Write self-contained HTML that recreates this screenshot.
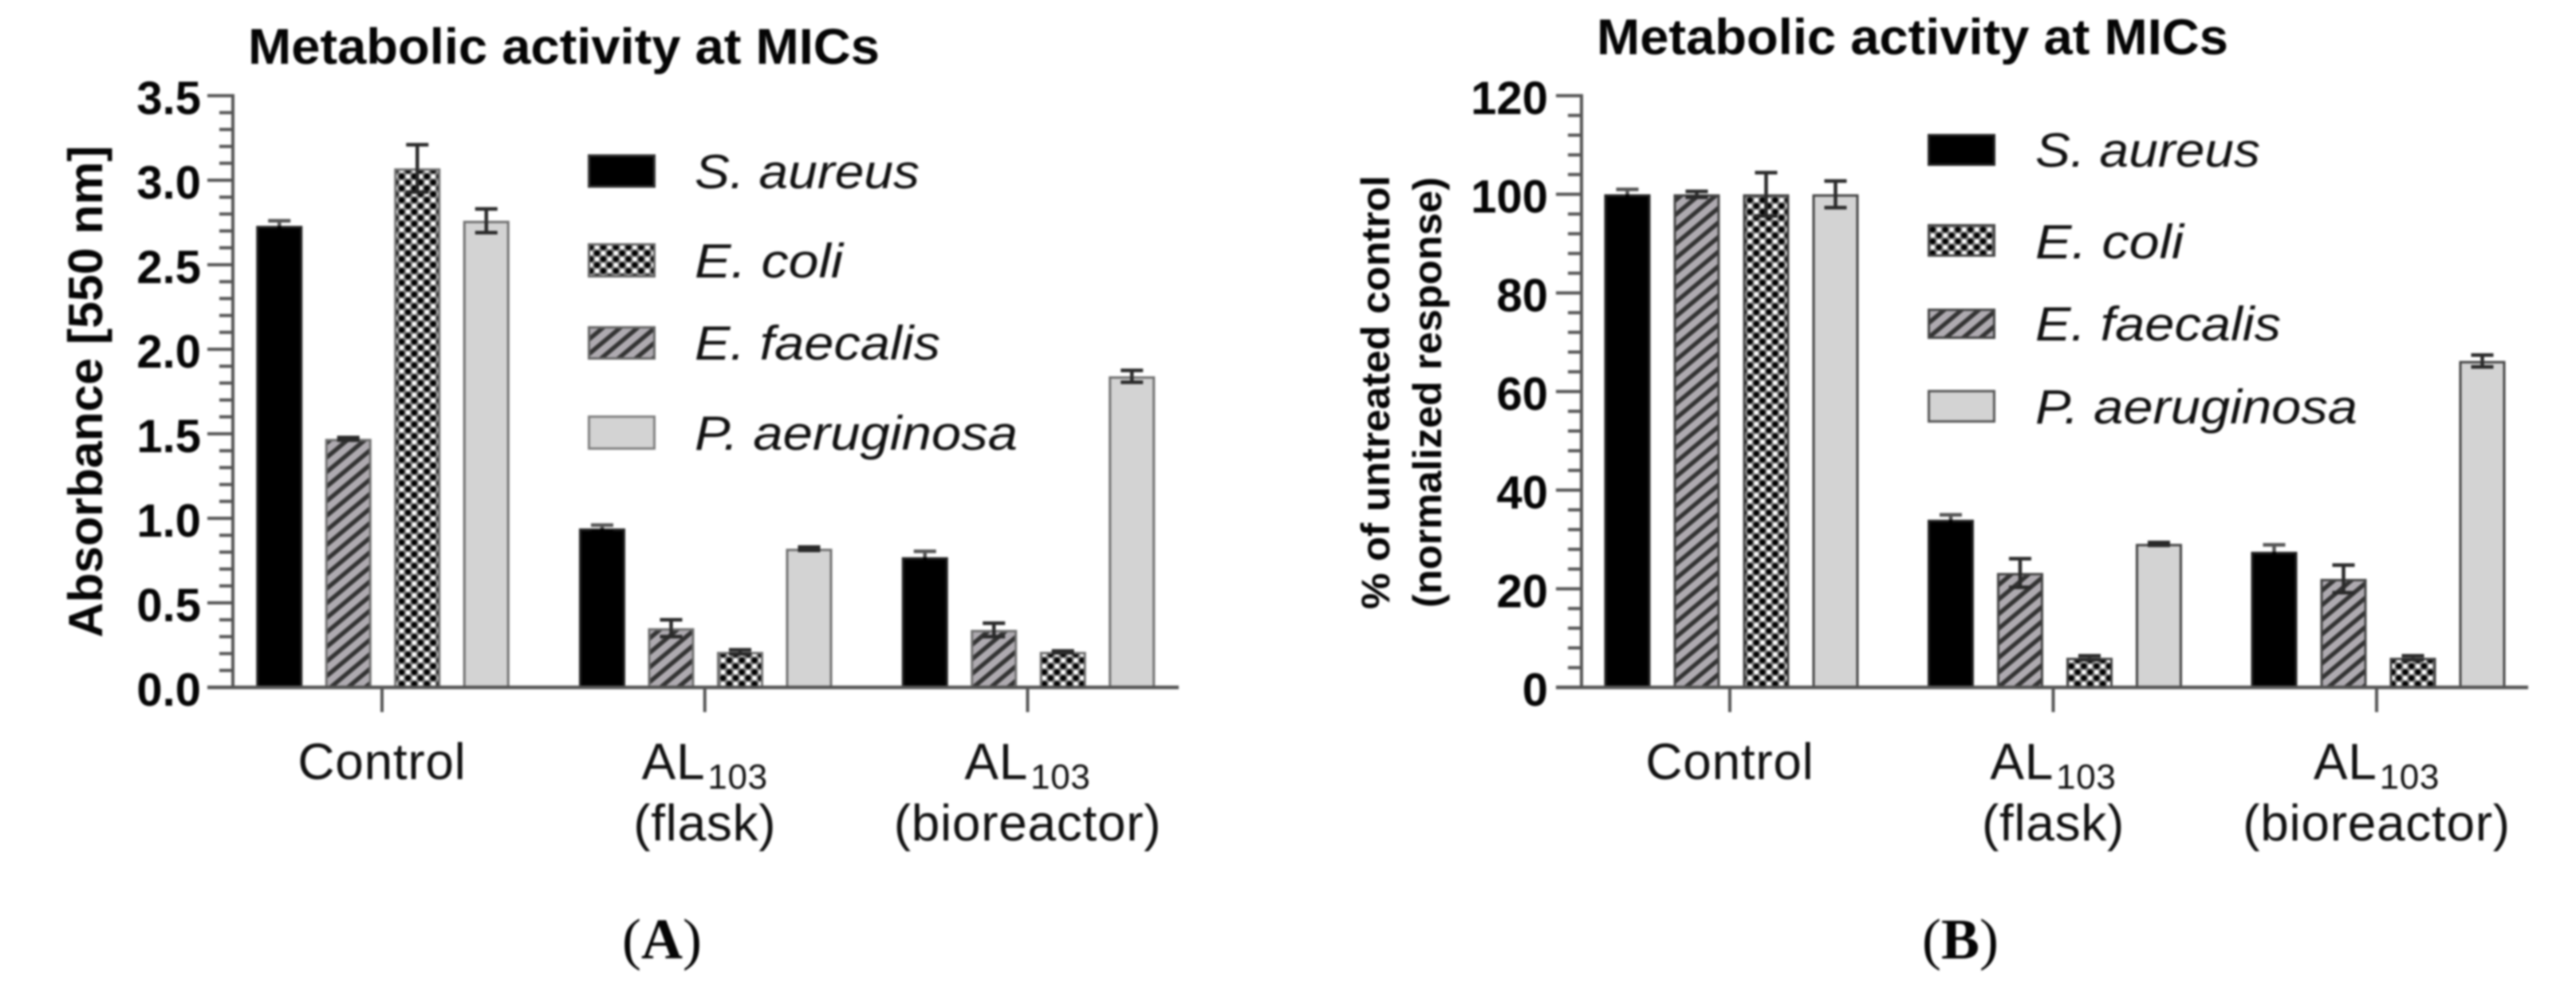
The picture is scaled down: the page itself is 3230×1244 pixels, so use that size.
<!DOCTYPE html>
<html lang="en">
<head>
<meta charset="utf-8">
<title>Metabolic activity at MICs</title>
<style>
html,body{margin:0;padding:0;background:#fff;width:3230px;height:1244px;overflow:hidden}
svg{display:block;filter:blur(1.4px)}
text{font-family:"Liberation Sans",sans-serif;fill:#050505}
.title{font-weight:bold;font-size:63px}
.axis-title{font-weight:bold}
.legend{font-style:italic;font-size:60px;fill:#111}
.tick{font-weight:bold;font-size:58px;text-anchor:end}
.cat{font-size:64px;text-anchor:middle;letter-spacing:.7px;fill:#111}
.panel{font-family:"Liberation Serif",serif;font-size:72px}
</style>
</head>
<body>
<svg id="fig" xmlns="http://www.w3.org/2000/svg" width="3230" height="1244" viewBox="0 0 3230 1244">
<defs>
<pattern id="dots" patternUnits="userSpaceOnUse" width="15.8" height="14.8" patternTransform="translate(2 3)">
<rect width="15.8" height="14.8" fill="#808080"/>
<circle cx="3.95" cy="3.7" r="3.6" fill="#000"/>
<circle cx="11.85" cy="11.1" r="3.6" fill="#000"/>
<circle cx="11.85" cy="3.7" r="2.9" fill="#fff"/>
<circle cx="3.95" cy="11.1" r="2.9" fill="#fff"/>
</pattern>
<pattern id="hatch" patternUnits="userSpaceOnUse" width="14" height="14" patternTransform="rotate(-40)">
<rect width="14" height="14" fill="#aeaab0"/>
<rect width="14" height="5.5" fill="#333"/>
</pattern>
</defs>

<rect width="3230" height="1244" fill="#fff"/>

<g id="panel-a">
<text class="title" x="311" y="80" textLength="792" lengthAdjust="spacingAndGlyphs">Metabolic activity at MICs</text>
<text class="axis-title" font-size="60" text-anchor="middle" transform="translate(128 491) rotate(-90)" textLength="617" lengthAdjust="spacingAndGlyphs">Absorbance [550 nm]</text>
<g>
<rect x="738.5" y="195" width="82" height="39" fill="#000" stroke="#333" stroke-width="3"/>
<text class="legend" x="871" y="236" textLength="282" lengthAdjust="spacingAndGlyphs">S. aureus</text>
<rect x="738.5" y="306.5" width="82" height="40" fill="url(#dots)" stroke="#666" stroke-width="3"/>
<text class="legend" x="871" y="348" textLength="186" lengthAdjust="spacingAndGlyphs">E. coli</text>
<rect x="738.5" y="410.5" width="82" height="39" fill="url(#hatch)" stroke="#666" stroke-width="3"/>
<text class="legend" x="871" y="451" textLength="308" lengthAdjust="spacingAndGlyphs">E. faecalis</text>
<rect x="738.5" y="522.5" width="82" height="40" fill="#d3d3d3" stroke="#808080" stroke-width="3"/>
<text class="legend" x="871" y="564" textLength="405" lengthAdjust="spacingAndGlyphs">P. aeruginosa</text>
</g>
<text class="panel" x="780" y="1202">(<tspan font-weight="bold">A</tspan>)</text>
</g>

<g id="panel-b">
<text class="title" x="2002" y="68" textLength="792" lengthAdjust="spacingAndGlyphs">Metabolic activity at MICs</text>
<text class="axis-title" font-size="50" text-anchor="middle" transform="translate(1742 492) rotate(-90)" textLength="544" lengthAdjust="spacingAndGlyphs">% of untreated control</text>
<text class="axis-title" font-size="50" text-anchor="middle" transform="translate(1807 492) rotate(-90)" textLength="540" lengthAdjust="spacingAndGlyphs">(normalized response)</text>
<g>
<rect x="2418.5" y="169.5" width="82" height="37" fill="#000" stroke="#222" stroke-width="3"/>
<text class="legend" x="2552" y="209" textLength="282" lengthAdjust="spacingAndGlyphs">S. aureus</text>
<rect x="2418.5" y="282.5" width="82" height="38" fill="url(#dots)" stroke="#444" stroke-width="3"/>
<text class="legend" x="2552" y="324" textLength="186" lengthAdjust="spacingAndGlyphs">E. coli</text>
<rect x="2418.5" y="388.5" width="82" height="35" fill="url(#hatch)" stroke="#444" stroke-width="3"/>
<text class="legend" x="2552" y="427" textLength="308" lengthAdjust="spacingAndGlyphs">E. faecalis</text>
<rect x="2418.5" y="490.5" width="82" height="38" fill="#d3d3d3" stroke="#555" stroke-width="3"/>
<text class="legend" x="2552" y="531" textLength="404" lengthAdjust="spacingAndGlyphs">P. aeruginosa</text>
</g>
<text class="panel" x="2410" y="1202">(<tspan font-weight="bold">B</tspan>)</text>
</g>
</svg>

<script>
// Shared categories and series
const categoryMain = ["Control", "AL", "AL"];
const categorySub = ["", "103", "103"];
const categorySecondLine = ["", "(flask)", "(bioreactor)"];
const seriesNames = ["S. aureus", "E. faecalis", "E. coli", "P. aeruginosa"];

// Panel A: absorbance, values per category
const aSAureus = [2.73, 0.94, 0.77];
const aEFaecalis = [1.47, 0.35, 0.34];
const aEColi = [3.07, 0.21, 0.21];
const aPAeruginosa = [2.76, 0.82, 1.84];
const aSAureusErr = [0.03, 0.02, 0.035];
const aEFaecalisErr = [0.008, 0.05, 0.04];
const aEColiErr = [0.14, 0.012, 0.006];
const aPAeruginosaErr = [0.07, 0.01, 0.035];
const aTickLabels = ["0.0", "0.5", "1.0", "1.5", "2.0", "2.5", "3.0", "3.5"];
const aTickValues = [0, 0.5, 1, 1.5, 2, 2.5, 3, 3.5];

// Panel B: % of untreated control, values per category
const bSAureus = [100, 34, 27.5];
const bEFaecalis = [100, 23.2, 22];
const bEColi = [100, 6, 6];
const bPAeruginosa = [100, 29.1, 66.2];
const bSAureusErr = [1, 1, 1.4];
const bEFaecalisErr = [0.6, 2.9, 2.8];
const bEColiErr = [4.4, 0.4, 0.4];
const bPAeruginosaErr = [2.7, 0.3, 1.2];
const bTickLabels = ["0", "20", "40", "60", "80", "100", "120"];
const bTickValues = [0, 20, 40, 60, 80, 100, 120];

const NS = "http://www.w3.org/2000/svg";
function make(parent, tag, props) {
  const el = document.createElementNS(NS, tag);
  for (const k in props) el.setAttribute(k, props[k]);
  parent.appendChild(el);
  return el;
}

const seriesFill = ["#000", "url(#hatch)", "url(#dots)", "#d3d3d3"];

function drawPanel(cfg) {
  const root = document.getElementById(cfg.id);
  const yScale = v => cfg.y0 - (v / cfg.max) * (cfg.y0 - cfg.yTop);
  const groupX = i => cfg.gx0 + i * cfg.gStep;
  const barX = (i, s) => groupX(i) + (s - 1.5) * cfg.pitch;
  const axisColor = "#555";

  const axis = make(root, "g", {});
  
  

  // Bars first so the baseline and error bars sit on top
  cfg.values.forEach((vals, s) => {
    vals.forEach((v, i) => {
      const top = yScale(v);
      const bar = make(root, "rect", {
        x: barX(i, s) - 27.5, y: top + 1.5, width: 55, height: cfg.y0 - top - 1.5,
        fill: seriesFill[s], stroke: s === 0 ? "#222" : cfg.edge, "stroke-width": 3
      });
      
      
    });
  });

  cfg.errors.forEach((errs, s) => {
    errs.forEach((e, i) => {
      const v = cfg.values[s][i], cx = barX(i, s);
      const hi = yScale(v + e), lo = yScale(v - e);
      // The lower half of a black bar's whisker is invisible against the fill
      const upper = make(root, "path", {
        d: "M" + (cx - 14) + " " + hi + "H" + (cx + 14) + "M" + cx + " " + hi + "V" + yScale(v),
        fill: "none", stroke: s === 0 ? "#555" : "#2a2a2a", "stroke-width": 4.5
      });
      
      
      const lower = make(root, "path", {
        d: "M" + (cx - 14) + " " + lo + "H" + (cx + 14) + "M" + cx + " " + lo + "V" + yScale(v),
        fill: "none", stroke: s === 0 ? "#000" : "#2a2a2a", "stroke-width": 4.5
      });
      
      
    });
  });

  // Y axis line
  const yLine = make(axis, "line", {x1: cfg.ax, x2: cfg.ax, y1: cfg.yTop - 2, y2: cfg.y0, stroke: axisColor, "stroke-width": 4});
  
  

  // X axis line
  const xLine = make(root, "line", {x1: cfg.ax - 32, x2: cfg.xEnd, y1: cfg.y0, y2: cfg.y0, stroke: axisColor, "stroke-width": 4.5});
  
  

  // Ticks and tick labels
  cfg.tickValues.forEach((v, i) => {
    const y = yScale(v);
    const t = make(axis, "line", {x1: cfg.ax - 32, x2: cfg.ax, y1: y, y2: y, stroke: axisColor, "stroke-width": 4});
    
    
    const lab = make(root, "text", {"class": "tick", x: cfg.labelX, y: y + 23});
    
    
    lab.textContent = cfg.tickLabels[i];
    if (i < cfg.tickValues.length - 1) {
      const stepV = (cfg.tickValues[i + 1] - v) / 5;
      for (let m = 1; m < 5; m++) {
        const my = yScale(v + m * stepV);
        const mt = make(axis, "line", {x1: cfg.ax - 17, x2: cfg.ax, y1: my, y2: my, stroke: axisColor, "stroke-width": 4});
        
        
      }
    }
  });

  // Category ticks and labels
  categoryMain.forEach((c, i) => {
    const cx = groupX(i) - cfg.tickShift;
    const t = make(root, "line", {x1: cx, x2: cx, y1: cfg.y0, y2: cfg.y0 + 31, stroke: axisColor, "stroke-width": 4});
    
    
    const lab = make(root, "text", {"class": "cat", x: cx, y: 977});
    
    
    lab.textContent = c;
    if (categorySub[i]) {
      const sub = make(lab, "tspan", {"font-size": 44, dx: 3, dy: 12});
      
      
      sub.textContent = categorySub[i];
    }
    if (categorySecondLine[i]) {
      const l2 = make(root, "text", {"class": "cat", x: cx, y: 1054});
      
      
      l2.textContent = categorySecondLine[i];
    }
  });
}

drawPanel({
  id: "panel-a", y0: 862, yTop: 120, max: 3.5, ax: 292, xEnd: 1478, labelX: 252,
  gx0: 480, gStep: 404.75, pitch: 86.5, tickShift: 1, edge: "#707070",
  values: [aSAureus, aEFaecalis, aEColi, aPAeruginosa],
  errors: [aSAureusErr, aEFaecalisErr, aEColiErr, aPAeruginosaErr],
  tickValues: aTickValues, tickLabels: aTickLabels
});
drawPanel({
  id: "panel-b", y0: 862, yTop: 120, max: 120, ax: 1983, xEnd: 3170, labelX: 1941,
  gx0: 2171, gStep: 405.5, pitch: 87, tickShift: 2, edge: "#444",
  values: [bSAureus, bEFaecalis, bEColi, bPAeruginosa],
  errors: [bSAureusErr, bEFaecalisErr, bEColiErr, bPAeruginosaErr],
  tickValues: bTickValues, tickLabels: bTickLabels
});
</script>
</body>
</html>
